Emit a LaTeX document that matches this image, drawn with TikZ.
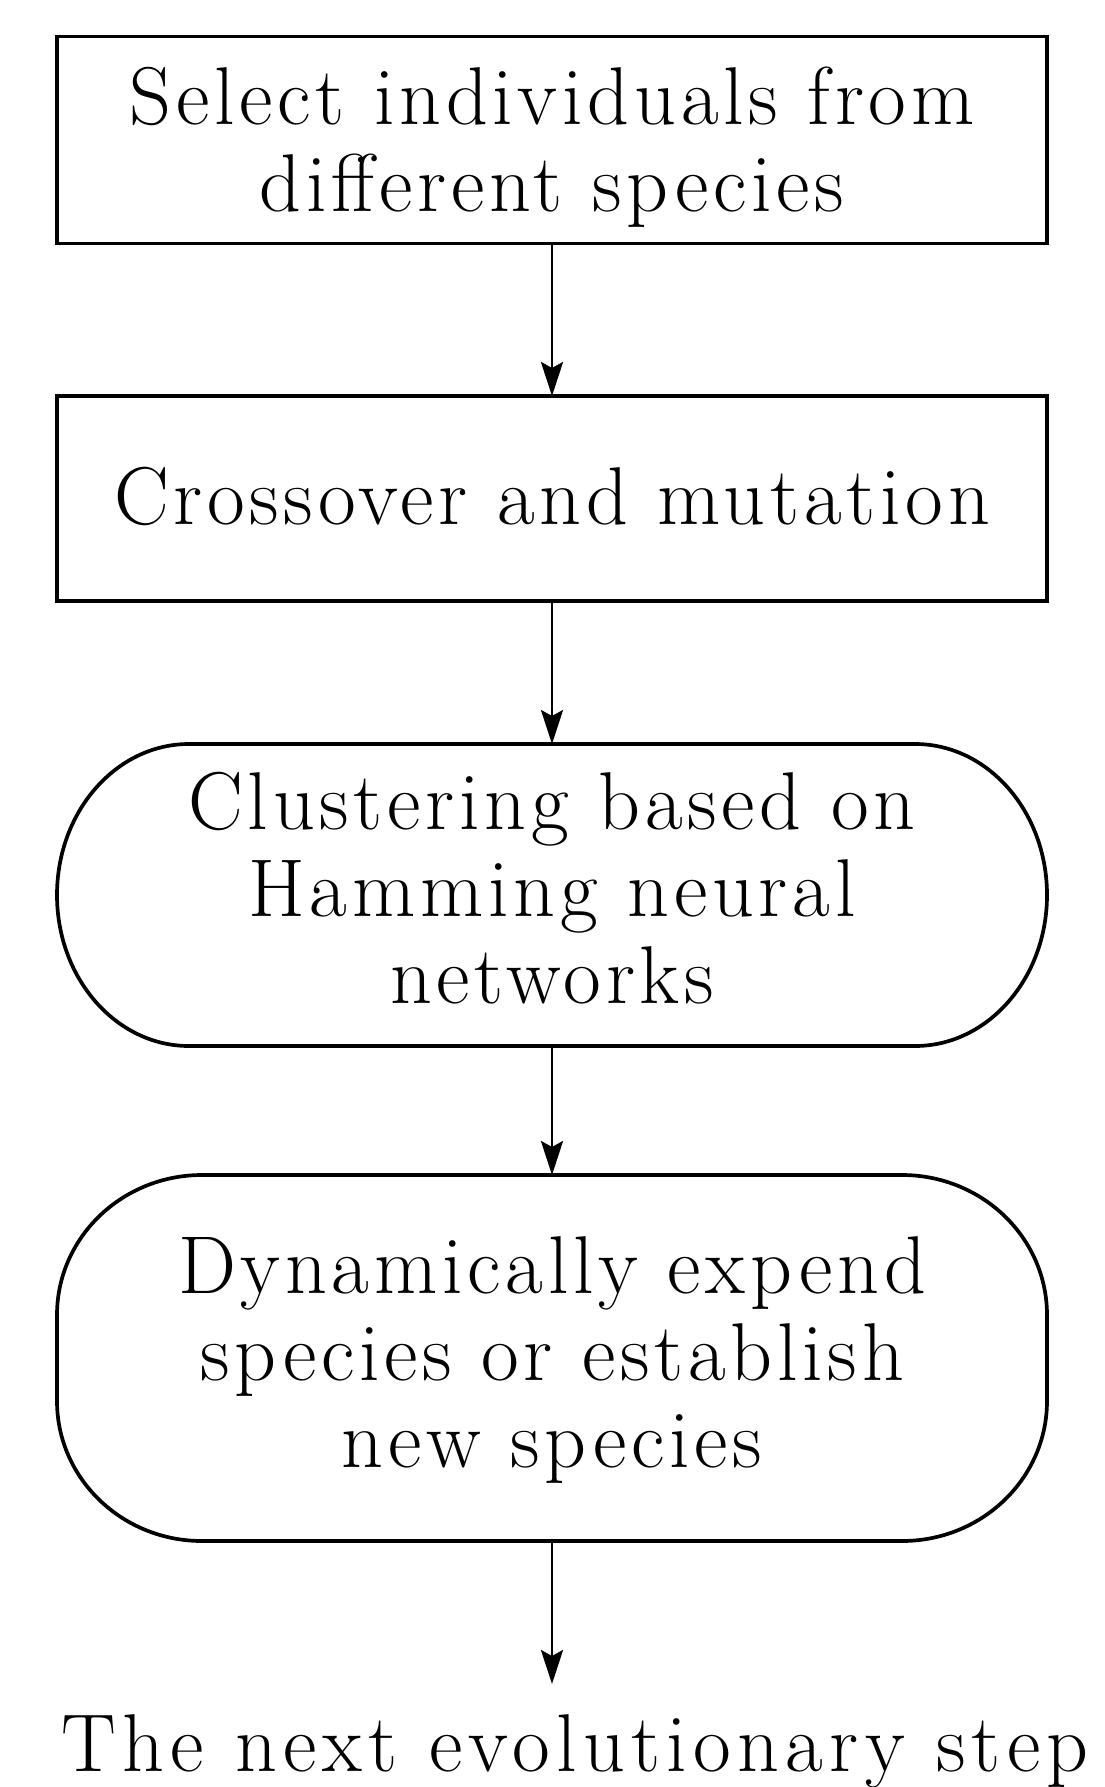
\documentclass[tikz,border=0pt]{standalone}
\usepackage{fontspec}
\setmainfont{Latin Modern Roman}
\usetikzlibrary{arrows.meta}
\tikzset{
  boxline/.style={line width=3.7pt},
  flowbox/.style={draw, boxline, rectangle, inner sep=0pt, outer sep=0pt},
  shapeholder/.style={rectangle, inner sep=0pt, outer sep=0pt},
  flowtext/.style={align=center, inner sep=0pt, font=\fontsize{82}{87}\selectfont\addfontfeature{LetterSpace=5.8}},
  endtext/.style={inner sep=0pt, font=\fontsize{82}{87}\selectfont\addfontfeature{LetterSpace=7.7}},
  flowarrow/.style={line width=2.8pt, -{Stealth[length=34pt,width=22pt,inset=6pt]}},
}
\begin{document}
\begin{tikzpicture}[x=1pt,y=-1pt]
\useasboundingbox (0,0) rectangle (1104,1787);
% box 1
\node[flowbox, minimum width=990pt, minimum height=207pt] (b1) at (552,140) {};
\node[flowtext] (t1) at (552,146.8) {Select individuals from\\different species};
% box 2
\node[flowbox, minimum width=990pt, minimum height=205pt] (b2) at (552,498.5) {};
\node[flowtext, anchor=base] (t2) at (552,524) {Crossover and mutation};
% box 3
\node[shapeholder, minimum width=990pt, minimum height=302pt] (s3) at (552,895) {};
\draw[boxline] ([xshift=132pt]s3.north west) -- ([xshift=-132pt]s3.north east)
  arc[start angle=90,end angle=-90,x radius=132pt,y radius=151pt]
  -- ([xshift=132pt]s3.south west)
  arc[start angle=270,end angle=90,x radius=132pt,y radius=151pt] -- cycle;
\node[flowtext] (t3) at (552,888) {Clustering based on\\Hamming neural\\networks};
% box 4
\node[shapeholder, minimum width=990pt, minimum height=366pt] (s4) at (552,1358) {};
\draw[boxline] ([xshift=145pt]s4.north west) -- ([xshift=-145pt]s4.north east)
  arc[start angle=90,end angle=0,x radius=145pt,y radius=140pt]
  -- ++(0,86)
  arc[start angle=0,end angle=-90,x radius=145pt,y radius=140pt]
  -- ([xshift=145pt]s4.south west)
  arc[start angle=270,end angle=180,x radius=145pt,y radius=140pt]
  -- ++(0,-86)
  arc[start angle=180,end angle=90,x radius=145pt,y radius=140pt] -- cycle;
\node[flowtext] (t4) at (552,1360.5) {Dynamically expend\\species or establish\\new species};
% final text
\node[endtext, anchor=base] (ft) at (575,1771) {The next evolutionary step};
\coordinate (tip) at (552,1684);
% connectors
\draw[flowarrow] (b1.south) -- (b2.north);
\draw[flowarrow] (b2.south) -- (s3.north);
\draw[flowarrow] (s3.south) -- (s4.north);
\draw[flowarrow] (s4.south) -- (tip);
\end{tikzpicture}
\end{document}
